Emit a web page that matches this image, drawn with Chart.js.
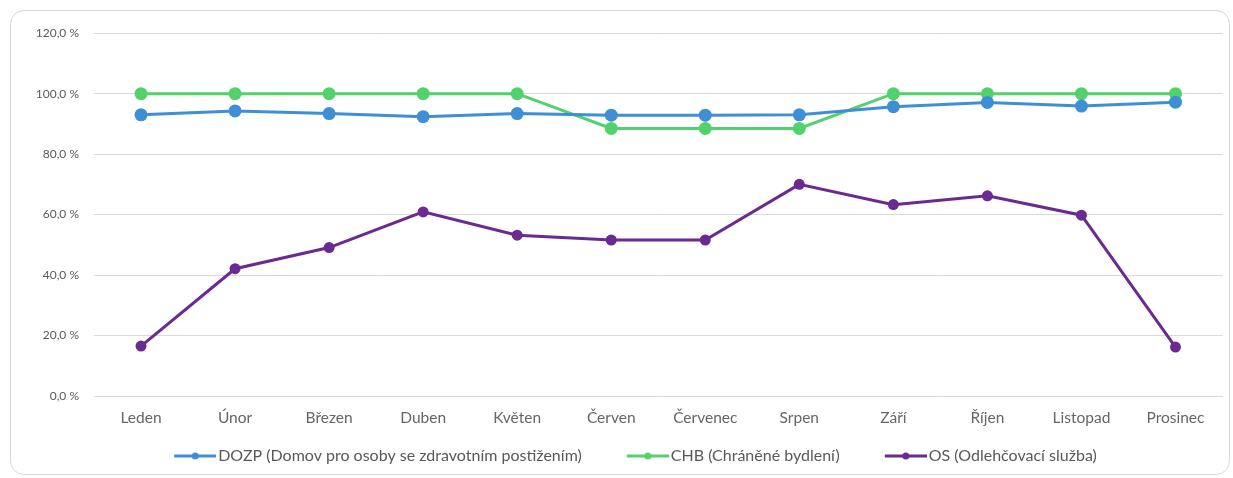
<!DOCTYPE html>
<html>
<head>
<meta charset="utf-8">
<script src="https://cdn.jsdelivr.net/npm/chart.js@4.4.0/dist/chart.umd.min.js"></script>
<style>
    body { margin: 0; background: #fff; }
    #frame {
        position: absolute; left: 10px; top: 10px; width: 1220px; height: 465px;
        border: 1px solid #d9d9d9; border-radius: 14px; box-sizing: border-box; background: #fff;
    }
    #line-chart { position: absolute; left: 0; top: 0; }
</style>
</head>
<body>
<div id="frame">
    <canvas id="line-chart" width="1218" height="463"></canvas>
</div>
<script>
const months = ['Leden', 'Únor', 'Březen', 'Duben', 'Květen', 'Červen', 'Červenec', 'Srpen', 'Září', 'Říjen', 'Listopad', 'Prosinec']
const dozp = [93.0, 94.3, 93.4, 92.4, 93.4, 92.9, 92.9, 93.0, 95.7, 97.1, 95.9, 97.2]
const chb = [100, 100, 100, 100, 100, 88.5, 88.5, 88.5, 100, 100, 100, 100]
const os = [16.5, 42.1, 49.1, 60.9, 53.2, 51.6, 51.6, 70.0, 63.3, 66.2, 59.8, 16.2]
const seriesNames = [
    'DOZP (Domov pro osoby se zdravotním postižením)',
    'CHB (Chráněné bydlení)',
    'OS (Odlehčovací služba)'
]
const colors = ['#3f8fd6', '#52d16c', '#6b2a91']

// legend marker: blank part on the left, then a short line with a dot, like Excel.
// image is wider than the legend box so the line ends right before the text
const boxW = 73
const imgW = 85
const lineW = 42
function legendIcon(color) {
    const c = document.createElement('canvas')
    c.width = imgW
    c.height = 10
    const g = c.getContext('2d')
    g.strokeStyle = color
    g.lineWidth = 3
    g.beginPath()
    g.moveTo(imgW - lineW, 5)
    g.lineTo(imgW, 5)
    g.stroke()
    g.fillStyle = color
    g.beginPath()
    g.arc(imgW - lineW / 2, 5, 3.5, 0, Math.PI * 2)
    g.fill()
    return c
}

const textColor = '#595959'

const dataSets = [dozp, chb, os].map((values, i) => ({
    label: seriesNames[i],
    data: values,
    borderColor: colors[i],
    backgroundColor: colors[i],
    borderWidth: 3,
    pointRadius: i === 2 ? 5.5 : 6.5,
    pointBorderWidth: 0,
    pointStyle: 'circle',
    legendIcon: legendIcon(colors[i]),
    tension: 0
}))

// fixed legend height
const legendHeight = {
    id: 'legendHeight',
    beforeInit(chart) {
        const fit = chart.legend.fit
        chart.legend.fit = function () {
            fit.bind(chart.legend)()
            this.height = 34
        }
    }
}

let ctx = document.getElementById('line-chart').getContext('2d')
window.myLine = new Chart(ctx, {
    type: 'line',
    data: {
        labels: months,
        datasets: dataSets
    },
    plugins: [legendHeight],
    options: {
        responsive: false,
        animation: false,
        layout: {padding: {top: 14, right: 6, left: 0, bottom: 0}},
        scales: {
            x: {
                offset: true,
                grid: {display: false, drawTicks: false},
                border: {color: '#d9d9d9', width: 1},
                ticks: {color: '#666666', font: {family: 'Lato', size: 15.5}, padding: 13, maxRotation: 0},
                afterFit: (scale) => { scale.height = 44 }
            },
            y: {
                min: 0,
                max: 120,
                grid: {color: '#d9d9d9', drawTicks: false},
                border: {display: false},
                ticks: {
                    stepSize: 20,
                    color: textColor,
                    font: {family: 'Lato', size: 12},
                    padding: 15,
                    callback: (v) => v.toFixed(1).replace('.', ',') + ' %'
                },
                afterFit: (scale) => { scale.width = 83 }
            }
        },
        plugins: {
            legend: {
                position: 'bottom',
                labels: {
                    color: textColor,
                    font: {family: 'Lato', size: 16},
                    usePointStyle: true,
                    pointStyleWidth: boxW,
                    boxHeight: 10,
                    padding: 8,
                    generateLabels: (chart) => chart.data.datasets.map((ds, i) => ({
                        text: ds.label,
                        fontColor: textColor,
                        pointStyle: ds.legendIcon,
                        datasetIndex: i,
                        hidden: false
                    }))
                }
            },
            tooltip: {enabled: false}
        }
    }
})
</script>
</body>
</html>
